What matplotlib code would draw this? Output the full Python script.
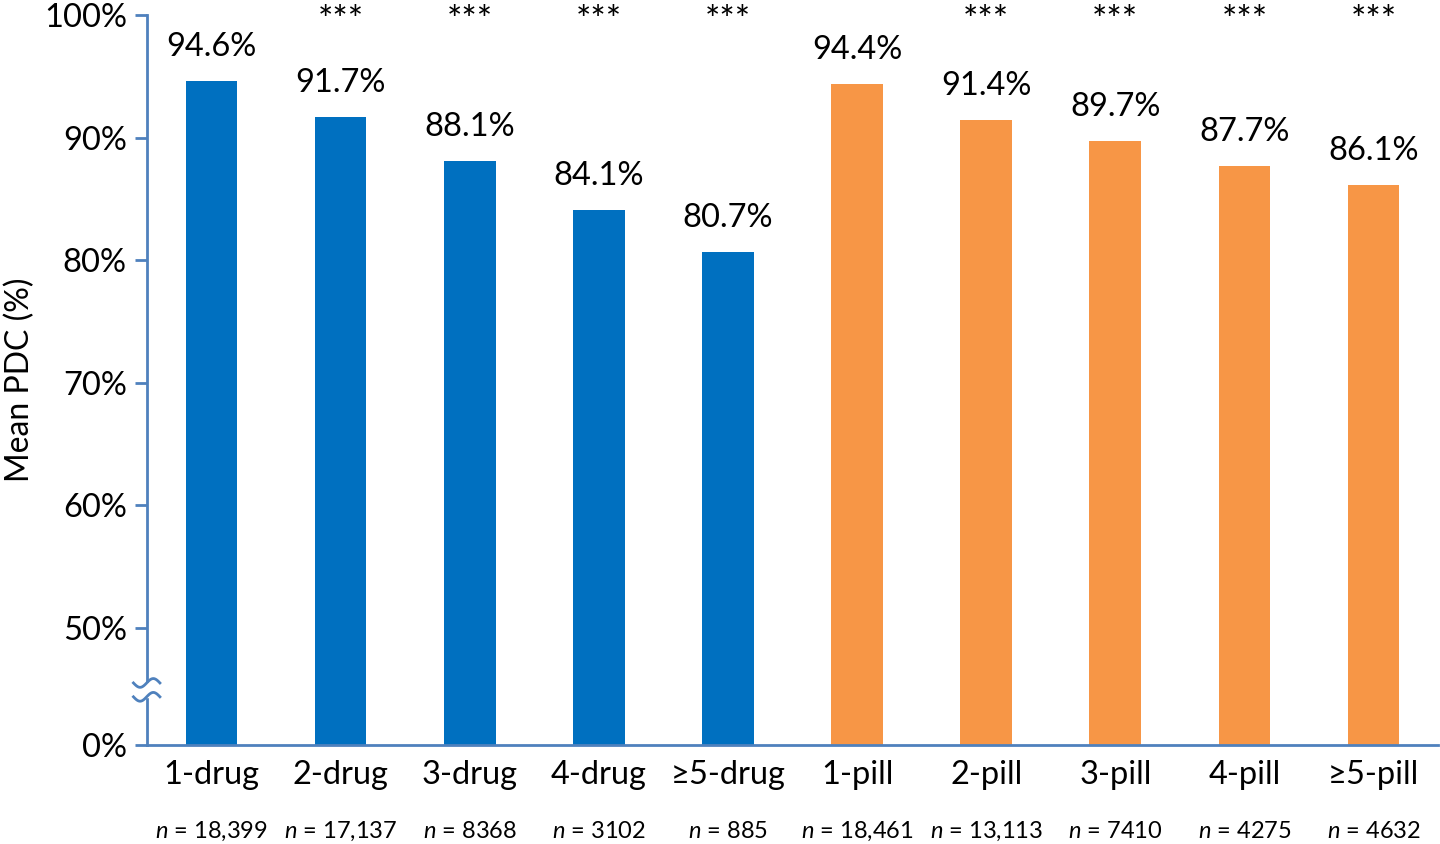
import numpy as np
import matplotlib
matplotlib.use("Agg")
from matplotlib import pyplot as plt
from matplotlib.ticker import FuncFormatter

plt.rcParams['font.family'] = ['Lato', 'DejaVu Sans']
plt.rcParams['mathtext.fontset'] = 'custom'
plt.rcParams['mathtext.it'] = 'Lato:italic'
plt.rcParams['mathtext.rm'] = 'Lato'

categories = ['1-drug', '2-drug', '3-drug', '4-drug', '≥5-drug',
              '1-pill', '2-pill', '3-pill', '4-pill', '≥5-pill']
mean_pdc = [94.6, 91.7, 88.1, 84.1, 80.7, 94.4, 91.4, 89.7, 87.7, 86.1]
n_counts = ['18,399', '17,137', '8368', '3102', '885',
            '18,461', '13,113', '7410', '4275', '4632']
significant = [False, True, True, True, True, False, True, True, True, True]

blue = '#0070C0'
orange = '#F79646'
axis_col = '#4F81BD'
colors = [blue] * 5 + [orange] * 5

# broken axis: 0-50% squeezed into a short segment
BREAK = 50.0
LOW = 9.54


def fwd(v):
    v = np.asarray(v, dtype=float)
    return np.where(v >= BREAK, v, BREAK - (BREAK - v) * LOW / BREAK)


def inv(y):
    y = np.asarray(y, dtype=float)
    return np.where(y >= BREAK, y, BREAK - (BREAK - y) * BREAK / LOW)


fig = plt.figure(figsize=(14.4, 8.44), dpi=100)
ax = fig.add_axes([147 / 1440, 1 - 745 / 844, (1438 - 147) / 1440, 730 / 844])
ax.set_yscale('function', functions=(fwd, inv))

x = np.arange(len(categories))
bars = ax.bar(x, mean_pdc, width=0.4, color=colors)

ax.set_xlim(-0.5, len(categories) - 0.5)
ax.set_ylim(0, 100)
ax.set_yticks([0, 50, 60, 70, 80, 90, 100])
ax.yaxis.set_major_formatter(FuncFormatter(lambda v, p: f'{v:.0f}%'))
ax.yaxis.set_minor_locator(matplotlib.ticker.NullLocator())
ax.tick_params(axis='y', direction='out', length=8.5, width=2, color=axis_col,
               labelsize=23.5, pad=6)
ax.set_xticks(x)
ax.set_xticklabels(categories, fontsize=23.5)
ax.tick_params(axis='x', length=0, pad=11)

for s in ['top', 'right']:
    ax.spines[s].set_visible(False)
for s in ['left', 'bottom']:
    ax.spines[s].set_color(axis_col)
    ax.spines[s].set_linewidth(2)

ax.set_ylabel('Mean PDC (%)', fontsize=23)
ax.yaxis.set_label_coords(-0.087, 0.5)

for rect, v in zip(bars, mean_pdc):
    ax.annotate(f'{v:.1f}%', (rect.get_x() + rect.get_width() / 2, v),
                xytext=(0, 18), textcoords='offset points',
                ha='center', va='baseline', fontsize=23.5)

for xi, sig in zip(x, significant):
    if sig:
        ax.text(xi, 98.6, '***', ha='center', va='baseline', fontsize=26,
                clip_on=False)

for xi, n in zip(x, n_counts):
    ax.annotate(f'$n$ = {n}', (xi, 0), xytext=(0, -62), textcoords='offset points',
                ha='center', va='center', fontsize=17, annotation_clip=False)

# break marks on the y axis (axes fraction)
wave_y = [0.085, 0.066]
ax.fill_between([-0.012, 0.012], [wave_y[1]] * 2, [wave_y[0]] * 2, color='white',
                transform=ax.transAxes, clip_on=False, zorder=5)
t = np.linspace(0, 1, 50)
for yb in wave_y:
    xs = -0.0105 + 0.0205 * t
    ys = yb - 0.006 * np.sin(2 * np.pi * t)
    ax.plot(xs, ys, color=axis_col, lw=2, transform=ax.transAxes,
            clip_on=False, zorder=6)

fig.savefig('out.png', dpi=100)
